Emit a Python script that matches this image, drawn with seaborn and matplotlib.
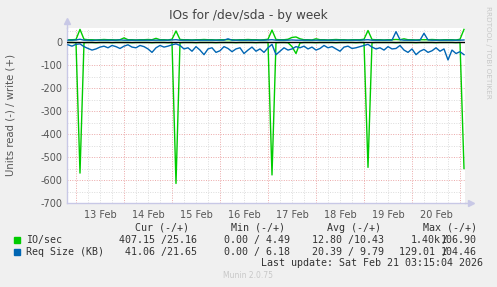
import matplotlib
matplotlib.use("Agg")
import matplotlib.pyplot as plt
import matplotlib.dates as mdates
import matplotlib.patches as mpatches
import numpy as np
import pandas as pd
import seaborn as sns

# ---------------- data ----------------
start_time = "2026-02-12 20:00"
n_points = 100
step = "2h"

io_read = [-2, -2, -3, -570, -3, -2, -2, -3, -2, -2,
           -2, -3, -2, -2, -2, -2, -3, -2, -2, -2,
           -2, -3, -2, -2, -2, -3, -2, -615, -3, -2,
           -2, -2, -3, -2, -2, -2, -2, -3, -2, -2,
           -2, -2, -3, -2, -2, -2, -2, -3, -2, -2,
           -2, -578, -3, -2, -2, -3, -20, -50, -4, -2,
           -2, -2, -3, -2, -2, -2, -2, -3, -2, -2,
           -2, -2, -3, -2, -2, -545, -3, -2, -2, -2,
           -2, -2, -3, -2, -2, -2, -2, -3, -2, -2,
           -2, -2, -3, -2, -2, -2, -2, -3, -2, -550]
io_write = [10, 10, 11, 55, 12, 10, 10, 9, 10, 11,
            10, 10, 9, 10, 18, 10, 10, 9, 10, 10,
            11, 10, 16, 10, 10, 9, 12, 48, 11, 10,
            10, 9, 10, 10, 11, 10, 10, 9, 10, 10,
            10, 10, 9, 10, 10, 11, 10, 10, 9, 10,
            12, 52, 11, 10, 10, 12, 20, 22, 14, 10,
            10, 9, 14, 10, 10, 9, 10, 11, 10, 10,
            9, 10, 10, 10, 12, 50, 11, 10, 10, 9,
            10, 10, 11, 10, 14, 10, 10, 9, 10, 10,
            10, 11, 10, 9, 10, 10, 10, 9, 12, 55]
req_read = [-12, -18, -10, -8,
            -20, -28, -35, -30, -22,
            -18, -25, -15, -20, -28, -18, -12, -22, -25, -15,
            -20, -30, -45, -25, -15, -22, -18,
            -12, -8, -15,
            -30, -25, -40, -20, -35, -55, -30, -25, -45, -38,
            -20, -28, -42, -30, -25, -50, -35, -22, -40, -30,
            -45, -25, -10,
            -55, -40, -25, -35, -30, -20,
            -25, -18, -30, -22, -35, -28, -15, -25, -20, -30,
            -40, -22, -18, -28, -25, -20, -15,
            -10, -22, -30,
            -25, -35, -20, -30, -28, -15,
            -35, -45, -30, -55, -40, -32, -45, -38,
            -25, -40, -30, -78, -35, -50, -42, -55]
req_write = [8, 8, 9, 12, 8, 8, 7, 8, 8, 8,
             8, 8, 8, 9, 8, 8, 8, 8, 8, 8,
             8, 8, 8, 8, 8, 8, 9, 10, 8, 8,
             8, 8, 8, 8, 8, 8, 8, 8, 8, 8,
             14, 8, 8, 8, 8, 8, 8, 8, 8, 8,
             9, 10, 8, 8, 8, 8, 9, 8, 8, 8,
             8, 8, 8, 8, 8, 8, 8, 8, 8, 8,
             8, 8, 8, 8, 9, 10, 8, 8, 8, 8,
             8, 8, 45, 10, 8, 8, 8, 8, 8, 38,
             9, 8, 8, 8, 8, 8, 8, 8, 8, 9]

title = "IOs for /dev/sda - by week"
ylabel = "Units read (-) / write (+)"
y_ticks = [0, -100, -200, -300, -400, -500, -600, -700]
day_labels = ["13 Feb", "14 Feb", "15 Feb", "16 Feb", "17 Feb", "18 Feb", "19 Feb", "20 Feb"]
legend_names = ["IO/sec", "Req Size (KB)"]
col_headers = ["Cur (-/+)", "Min (-/+)", "Avg (-/+)", "Max (-/+)"]
io_stats = ["407.15 /25.16", "0.00 / 4.49", "12.80 /10.43"]
req_stats = ["41.06 /21.65", "0.00 / 6.18", "20.39 / 9.79"]
io_max = ("1.40k", "106.90")
req_max = ("129.01 ", "104.46")
last_update = "Last update: Sat Feb 21 03:15:04 2026"
footer = "Munin 2.0.75"
side_text = "RRDTOOL / TOBI OETIKER"

GREEN = "#00CC00"
BLUE = "#0066B3"

times = pd.date_range(start_time, periods=n_points, freq=step)
df = pd.DataFrame({"time": times, "io_read": io_read, "io_write": io_write,
                   "req_read": req_read, "req_write": req_write})

# ---------------- figure ----------------
W, H = 497, 287
fig = plt.figure(figsize=(W / 100, H / 100), dpi=100, facecolor="#F0F0F0")

def fx(px):
    return px / W

def fy(py):
    return 1 - py / H

L, R, T, B = 67, 465, 28, 203
ax = fig.add_axes([fx(L), fy(B), fx(R) - fx(L), fy(T) - fy(B)])
ax.set_facecolor("white")

x0 = pd.Timestamp("2026-02-12 19:30")
x1 = pd.Timestamp("2026-02-21 02:30")
ax.set_xlim(x0, x1)
ax.set_ylim(-700, 61)

# grid
minor_color = "#DCDCDC"
major_color = "#EBA8A8"
for hh in pd.date_range("2026-02-12 18:00", "2026-02-21 06:00", freq="6h"):
    if x0 <= hh <= x1:
        c = major_color if hh.hour == 0 else minor_color
        ax.axvline(hh, color=c, lw=0.7, ls=(0, (1, 1.5)), zorder=0.5)
for yv in range(-650, 61, 50):
    c = major_color if yv % 100 == 0 else minor_color
    ax.axhline(yv, color=c, lw=0.7, ls=(0, (1, 1.5)), zorder=0.5)

# lines
lw = 1.0
sns.lineplot(data=df, x="time", y="io_read", ax=ax, color=GREEN, lw=lw, zorder=2)
sns.lineplot(data=df, x="time", y="io_write", ax=ax, color=GREEN, lw=lw, zorder=2)
sns.lineplot(data=df, x="time", y="req_read", ax=ax, color=BLUE, lw=lw, zorder=3)
sns.lineplot(data=df, x="time", y="req_write", ax=ax, color=BLUE, lw=lw, zorder=3)
ax.axhline(0, color="black", lw=1.0, zorder=4)

ax.set_xlabel("")
ax.set_ylabel("")

# ticks
ax.set_yticks(y_ticks)
ax.set_yticklabels([str(v) for v in y_ticks])
noon = pd.date_range("2026-02-13 12:00", periods=len(day_labels), freq="1D")
ax.set_xticks(noon)
ax.set_xticklabels(day_labels)
ax.tick_params(axis="both", length=0, labelsize=7, labelcolor="#555555", pad=3)
ax.tick_params(axis="x", pad=5)

# spines
for s in ["top", "right"]:
    ax.spines[s].set_visible(False)
for s in ["left", "bottom"]:
    ax.spines[s].set_color("#C8C8E6")
    ax.spines[s].set_linewidth(1.0)
ax.plot([0], [1.04], marker="^", color="#C8C8E6", ms=4, transform=ax.transAxes, clip_on=False)
ax.plot([1.015], [0], marker=">", color="#C8C8E6", ms=4, transform=ax.transAxes, clip_on=False)
ax.plot([0, 0], [1.0, 1.04], color="#C8C8E6", lw=1.0, transform=ax.transAxes, clip_on=False)
ax.plot([1.0, 1.015], [0, 0], color="#C8C8E6", lw=1.0, transform=ax.transAxes, clip_on=False)

# texts
fig.text(fx(248), fy(16), title, ha="center", va="center", fontsize=8.7, color="#444444")
fig.text(fx(11), fy(115), ylabel, ha="center", va="center", rotation=90, fontsize=7.3, color="#555555")
fig.text(fx(488), fy(52), side_text, ha="center", va="center", rotation=270, fontsize=5.2, color="#C8C8C8")

mono = "DejaVu Sans Mono"
fs = 7.2
tc = "#333333"
for hx, h in zip([135, 231, 327, 423], col_headers):
    fig.text(fx(hx), fy(228), h, ha="left", va="center", family=mono, fontsize=fs, color=tc)

fig.patches.append(mpatches.Rectangle((fx(14), fy(243)), fx(6), fy(237) - fy(243),
                                      transform=fig.transFigure, color=GREEN, figure=fig))
fig.patches.append(mpatches.Rectangle((fx(14), fy(255)), fx(6), fy(249) - fy(255),
                                      transform=fig.transFigure, color=BLUE, figure=fig))

fig.text(fx(26), fy(240), legend_names[0], ha="left", va="center", family=mono, fontsize=fs, color=tc)
fig.text(fx(26), fy(252), legend_names[1], ha="left", va="center", family=mono, fontsize=fs, color=tc)
for sx, s in zip([119, 224, 312], io_stats):
    fig.text(fx(sx), fy(240), s, ha="left", va="center", family=mono, fontsize=fs, color=tc)
for sx, s in zip([125, 224, 312], req_stats):
    fig.text(fx(sx), fy(252), s, ha="left", va="center", family=mono, fontsize=fs, color=tc)
fig.text(fx(411), fy(240), io_max[0], ha="left", va="center", family=mono, fontsize=fs, color=tc)
fig.text(fx(441), fy(240), io_max[1], ha="left", va="center", family=mono, fontsize=fs, color=tc)
fig.text(fx(441), fy(240), "/", ha="left", va="center", family=mono, fontsize=fs, color=tc)
fig.text(fx(399), fy(252), req_max[0], ha="left", va="center", family=mono, fontsize=fs, color=tc)
fig.text(fx(441), fy(252), req_max[1], ha="left", va="center", family=mono, fontsize=fs, color=tc)
fig.text(fx(441), fy(252), "/", ha="left", va="center", family=mono, fontsize=fs, color=tc)
fig.text(fx(483), fy(263), last_update, ha="right", va="center", family=mono, fontsize=fs, color=tc)
fig.text(fx(248), fy(276), footer, ha="center", va="center", fontsize=5.5, color="#C8C8C8")

fig.savefig("out.png", dpi=100, facecolor=fig.get_facecolor())
